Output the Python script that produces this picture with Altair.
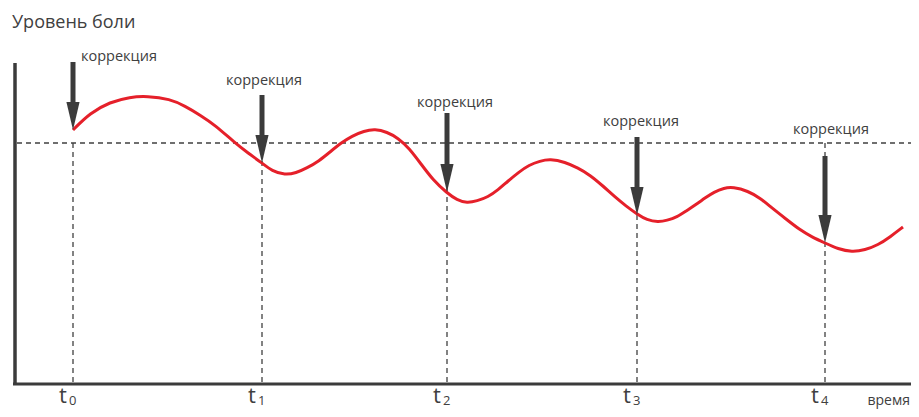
import altair as alt
import pandas as pd

# --- data (time position, pain level) ---
curve_t = [73, 90, 110, 130, 147, 170, 185, 200, 215, 235, 248, 262, 272, 285,
           296, 307, 319, 330, 341, 352, 364, 375,
           387, 398, 409, 421, 433, 447, 457, 467,
           477, 488, 498, 508, 519, 529, 540, 550,
           565, 578, 590, 603, 615, 626, 637, 647, 658,
           667, 677, 686, 696, 705, 714, 724, 733,
           748, 760, 772, 786, 800, 812, 825, 838, 852,
           865, 878, 890, 903]
curve_level = [253, 270, 281, 286, 287, 284, 277, 268, 258, 240, 230, 220, 212, 208,
               210, 215, 222, 231, 240, 247, 252, 254,
               251, 245, 235, 219, 203, 190, 183, 180,
               182, 186, 193, 202, 211, 218, 222, 224,
               221, 215, 208, 197, 186, 177, 169, 163, 161,
               162.5, 166, 172, 178.5, 185, 191, 195, 196,
               192, 185, 175, 164, 153, 146, 140, 134, 131,
               133, 138, 146, 156]

tick_t = [73, 262, 447, 637, 825]
tick_sub = ["0", "1", "2", "3", "4"]
arrow_top = [321, 288, 270, 246, 227]
arrow_tip = [253, 220, 191, 168, 140]
label_t = [81, 226, 417, 603, 793]
label_level = [322, 298, 276, 257, 249]
label_text = ["коррекция"] * 5
threshold = 240
axis_start, axis_end, axis_top = 15, 911, 320
y_title = "Уровень боли"
x_title = "время"

FONT = "Open Sans"
DARK = "#3b3b3b"
TXT = "#404040"

xs = alt.Scale(domain=[8, 911], range=[0, 903])
ys = alt.Scale(domain=[-26, 375])
X = lambda f: alt.X(f, type="quantitative", scale=xs, axis=None)
Y = lambda f: alt.Y(f, type="quantitative", scale=ys, axis=None)

curve_df = pd.DataFrame({"t": curve_t, "level": curve_level})
ticks_df = pd.DataFrame({"t": tick_t, "sub": tick_sub, "top": [threshold] * 5,
                         "bottom": [0] * 5, "lab_y": [-20] * 5, "sub_y": [-22] * 5})
arrows_df = pd.DataFrame({"t": tick_t, "top": arrow_top, "tip": arrow_tip})
arrows_df["head"] = arrows_df["tip"] + 14
arrows_df["shaft_end"] = arrows_df["tip"] + 26
labels_df = pd.DataFrame({"t": label_t, "level": label_level, "text": label_text})

hline = alt.Chart(pd.DataFrame({"a": [axis_start + 2], "b": [axis_end], "y": [threshold]})).mark_rule(
    color=TXT, strokeWidth=1.3, strokeDash=[5, 4]).encode(x=X("a"), x2="b", y=Y("y"))

vlines = alt.Chart(ticks_df).mark_rule(color=TXT, strokeWidth=1.3, strokeDash=[5, 4]).encode(
    x=X("t"), y=Y("top"), y2="bottom")

yaxis = alt.Chart(pd.DataFrame({"x": [axis_start], "a": [-2], "b": [axis_top]})).mark_rule(
    color=DARK, strokeWidth=3.5).encode(x=X("x"), y=Y("a"), y2="b")
xaxis = alt.Chart(pd.DataFrame({"a": [axis_start - 2], "b": [axis_end], "y": [-1]})).mark_rule(
    color=DARK, strokeWidth=3).encode(x=X("a"), x2="b", y=Y("y"))

curve = alt.Chart(curve_df).mark_line(color="#e5202a", strokeWidth=3, interpolate="basis").encode(
    x=X("t"), y=Y("level"))

shafts = alt.Chart(arrows_df).mark_rule(color=DARK, strokeWidth=5).encode(
    x=X("t"), y=Y("top"), y2="shaft_end")
heads = alt.Chart(arrows_df).mark_point(
    shape="M-0.47,-1L0.47,-1L0,1Z", size=784, filled=True, opacity=1, color=DARK, strokeWidth=0
).encode(x=X("t"), y=Y("head"))

labels = alt.Chart(labels_df).mark_text(
    font=FONT, fontSize=14.5, color=TXT, align="left", baseline="alphabetic").encode(
    x=X("t"), y=Y("level"), text="text:N")

t_main = alt.Chart(ticks_df).mark_text(
    font=FONT, fontSize=22, color=TXT, align="center", baseline="alphabetic", dx=-10, text="t").encode(
    x=X("t"), y=Y("lab_y"))
t_sub = alt.Chart(ticks_df).mark_text(
    font=FONT, fontSize=13, color=TXT, align="left", baseline="alphabetic", dx=-4).encode(
    x=X("t"), y=Y("sub_y"), text="sub:N")

ytitle = alt.Chart(pd.DataFrame({"x": [12], "y": [355], "s": [y_title]})).mark_text(
    font=FONT, fontSize=18, color=TXT, align="left", baseline="alphabetic").encode(
    x=X("x"), y=Y("y"), text="s:N")
xtitle = alt.Chart(pd.DataFrame({"x": [910], "y": [-22], "s": [x_title]})).mark_text(
    font=FONT, fontSize=14, color=TXT, align="right", baseline="alphabetic").encode(
    x=X("x"), y=Y("y"), text="s:N")

chart = alt.layer(hline, vlines, yaxis, xaxis, curve, shafts, heads, labels, t_main, t_sub, ytitle, xtitle
).properties(width=903, height=401, autosize="none", padding=0, background="white"
).configure_view(stroke=None)

chart.save("out.html", embed_options={"renderer": "svg", "actions": False})
